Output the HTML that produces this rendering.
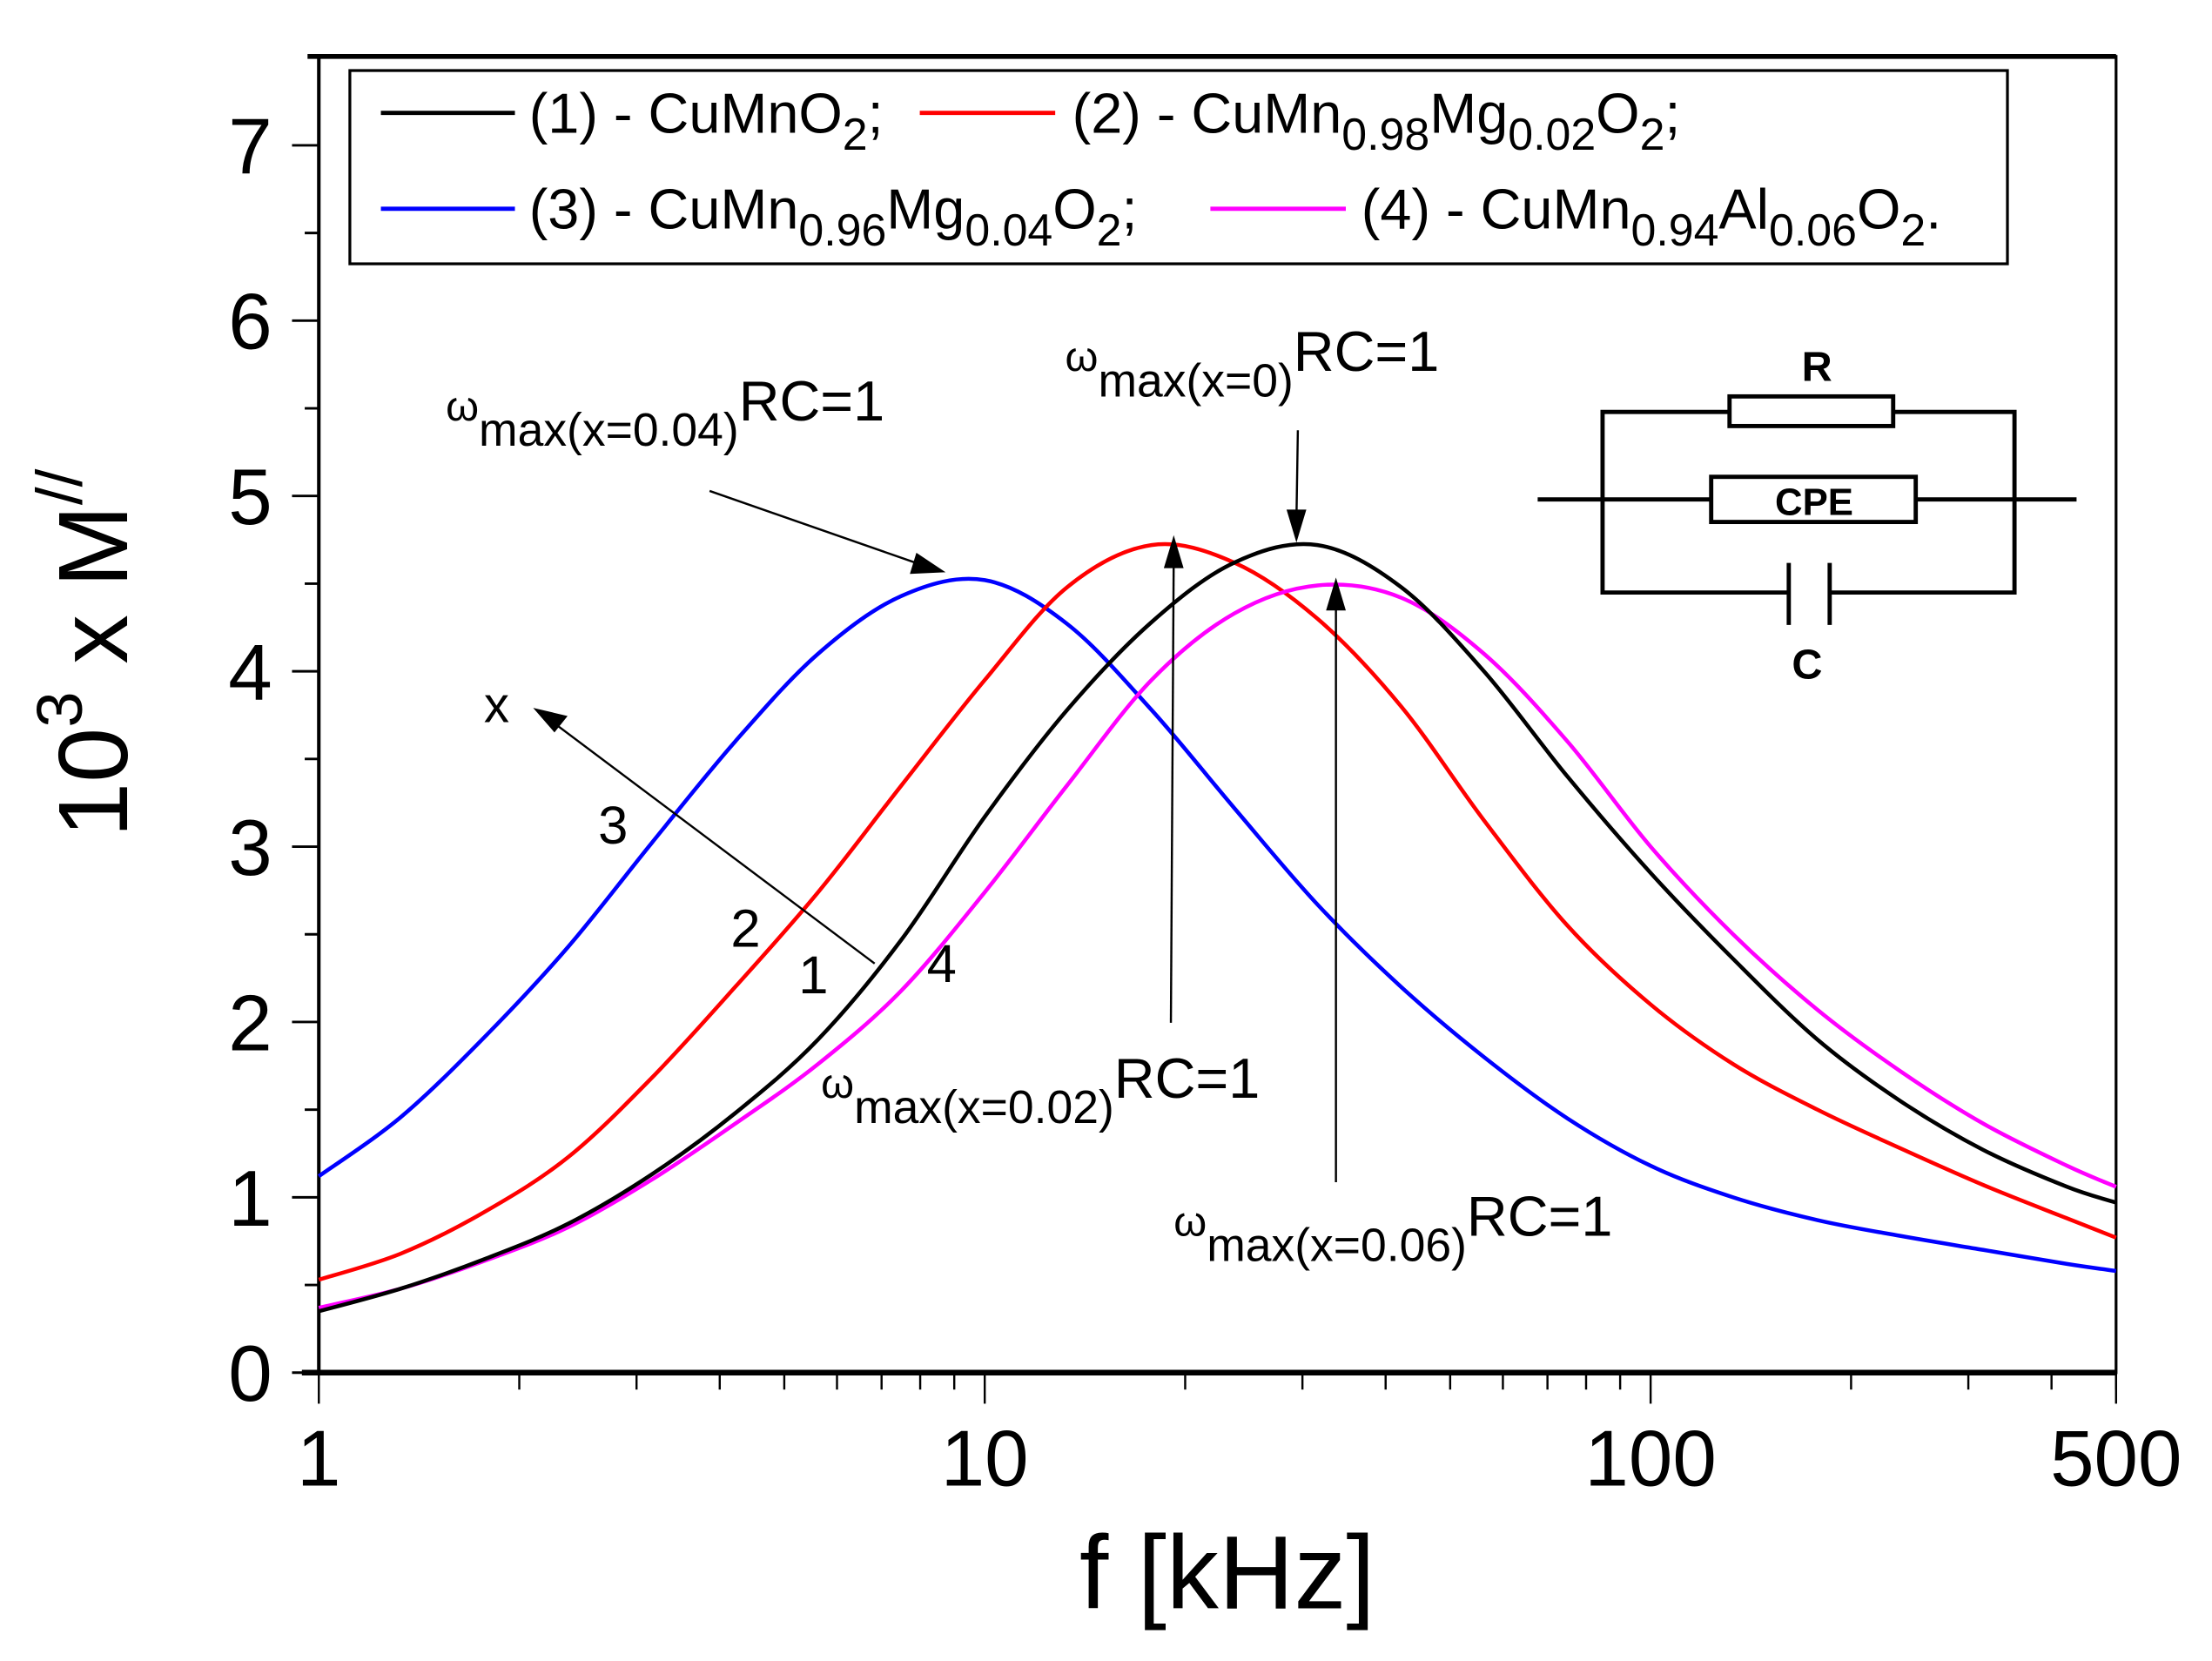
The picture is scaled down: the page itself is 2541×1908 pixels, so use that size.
<!DOCTYPE html>
<html><head><meta charset="utf-8"><style>
html,body{margin:0;padding:0;background:#fff;}
svg{display:block;font-family:"Liberation Sans",Arial,sans-serif;}
</style></head><body>
<svg id="chart" width="2541" height="1908" viewBox="0 0 1568 1177.4" xmlns="http://www.w3.org/2000/svg">
<rect x="0" y="0" width="1568" height="1177.4" fill="#fff"/>
<g id="axes"></g>
<g id="curves"></g>
<g>
  <rect x="248" y="50" width="1175" height="137" fill="#fff" stroke="#000" stroke-width="2"/>
  <line x1="270" y1="80" x2="365" y2="80" stroke="#000" stroke-width="3"/>
  <text x="375" y="94" font-size="40">(1) - CuMnO<tspan font-size="32" dy="12">2</tspan><tspan dy="-12">;</tspan></text>
  <line x1="652" y1="80" x2="748" y2="80" stroke="#f00" stroke-width="3"/>
  <text x="760" y="94" font-size="40">(2) - CuMn<tspan font-size="32" dy="12">0.98</tspan><tspan dy="-12">Mg</tspan><tspan font-size="32" dy="12">0.02</tspan><tspan dy="-12">O</tspan><tspan font-size="32" dy="12">2</tspan><tspan dy="-12">;</tspan></text>
  <line x1="270" y1="148" x2="365" y2="148" stroke="#00f" stroke-width="3"/>
  <text x="375" y="162" font-size="40">(3) - CuMn<tspan font-size="32" dy="12">0.96</tspan><tspan dy="-12">Mg</tspan><tspan font-size="32" dy="12">0.04</tspan><tspan dy="-12">O</tspan><tspan font-size="32" dy="12">2</tspan><tspan dy="-12">;</tspan></text>
  <line x1="858" y1="148" x2="954" y2="148" stroke="#f0f" stroke-width="3"/>
  <text x="965" y="162" font-size="40">(4) - CuMn<tspan font-size="32" dy="12">0.94</tspan><tspan dy="-12">Al</tspan><tspan font-size="32" dy="12">0.06</tspan><tspan dy="-12">O</tspan><tspan font-size="32" dy="12">2</tspan><tspan dy="-12">.</tspan></text>
</g>
<g stroke="#000" stroke-width="3" fill="none">
  <polyline points="1226,292 1136,292 1136,420 1268,420"/>
  <polyline points="1342,292 1428,292 1428,420 1297,420"/>
  <line x1="1090" y1="354" x2="1213" y2="354"/>
  <line x1="1358" y1="354" x2="1472" y2="354"/>
  <rect x="1226" y="281" width="116" height="21" fill="#fff"/>
  <rect x="1213" y="338" width="145" height="32" fill="#fff"/>
  <line x1="1268" y1="399" x2="1268" y2="443"/>
  <line x1="1297" y1="399" x2="1297" y2="443"/>
</g>
<text x="1288" y="270" font-size="30" font-weight="bold" text-anchor="middle">R</text>
<text x="1286" y="365" font-size="27" font-weight="bold" text-anchor="middle">CPE</text>
<text x="1281" y="481" font-size="30" font-weight="bold" text-anchor="middle">C</text>
<g font-size="40">
  <text x="316" y="298"><tspan font-size="30">ω</tspan><tspan font-size="33" dy="18">max(x=0.04)</tspan><tspan dy="-18">RC=1</tspan></text>
  <text x="755" y="263"><tspan font-size="30">ω</tspan><tspan font-size="33" dy="18">max(x=0)</tspan><tspan dy="-18">RC=1</tspan></text>
  <text x="582" y="778"><tspan font-size="30">ω</tspan><tspan font-size="33" dy="18">max(x=0.02)</tspan><tspan dy="-18">RC=1</tspan></text>
  <text x="832" y="876"><tspan font-size="30">ω</tspan><tspan font-size="33" dy="18">max(x=0.06)</tspan><tspan dy="-18">RC=1</tspan></text>
  <text x="343" y="512" font-size="36">x</text>
  <text x="424" y="598" font-size="38">3</text>
  <text x="518" y="671" font-size="38">2</text>
  <text x="566" y="704" font-size="38">1</text>
  <text x="657" y="696" font-size="38">4</text>
</g>
<g stroke="#000" stroke-width="1.5" fill="#000">
  <line x1="503" y1="348" x2="655" y2="401"/>
  <polygon points="668,405 646,406 650,393"/>
  <line x1="920" y1="305" x2="919" y2="368"/>
  <polygon points="919,382 913,362 925,362"/>
  <line x1="830" y1="725" x2="832" y2="395"/>
  <polygon points="832,382 826,402 838,402"/>
  <line x1="947" y1="838" x2="947" y2="425"/>
  <polygon points="947,412 941,432 953,432"/>
  <line x1="620" y1="683" x2="392" y2="512"/>
  <polygon points="380,503 401,508 393,518"/>
</g>
<text x="870" y="1140" font-size="74" text-anchor="middle">f [kHz]</text>
<text transform="translate(90,463) rotate(-90)" font-size="70" text-anchor="middle">10<tspan font-size="46" dy="-32">3</tspan><tspan dy="32"> x M</tspan><tspan font-size="46" dy="-32">//</tspan></text>
</svg>
<script>
const freqs = [1,1.33,1.78,2.37,3.16,4.22,5.62,7.5,10,13.3,17.8,23.7,31.6,42.2,56.2,75,100,133,178,237,316,422,500];
const seriesBlack = [0.35,0.48,0.65,0.85,1.13,1.48,1.9,2.47,3.17,3.78,4.28,4.62,4.72,4.48,4.0,3.4,2.85,2.36,1.9,1.55,1.27,1.06,0.97];
const seriesRed = [0.53,0.68,0.92,1.23,1.68,2.2,2.74,3.35,3.95,4.48,4.72,4.62,4.3,3.8,3.15,2.55,2.1,1.76,1.5,1.28,1.07,0.88,0.77];
const seriesBlue = [1.12,1.46,1.92,2.43,3.02,3.6,4.1,4.43,4.52,4.27,3.78,3.22,2.67,2.2,1.8,1.45,1.18,1.0,0.87,0.78,0.7,0.62,0.58];
const seriesMagenta = [0.37,0.48,0.64,0.83,1.1,1.42,1.76,2.18,2.74,3.35,3.95,4.33,4.49,4.42,4.1,3.6,3.0,2.5,2.07,1.72,1.42,1.18,1.06];
const xTickLabels = ["1","10","100","500"];
const xTickValues = [1,10,100,500];
const yTickLabels = ["0","1","2","3","4","5","6","7"];

const NS = "http://www.w3.org/2000/svg";
const X0 = 226, X1 = 1500, Y0 = 973, Y7 = 103;
function xs(f){ return X0 + (X1 - X0) * Math.log10(f) / Math.log10(500); }
function ys(v){ return Y0 - (Y0 - Y7) * v / 7; }
function mk(tag, attrs, parent){ const e = document.createElementNS(NS, tag); for (const k in attrs) e.setAttribute(k, attrs[k]); parent.appendChild(e); return e; }

const axes = document.getElementById('axes');
const fr = mk('rect', {x:X0, y:40, width:X1-X0, height:Y0-40, fill:'none', stroke:'#000', 'stroke-width':2}, axes);


const xa = mk('line', {x1:X0-12, y1:Y0, x2:X1, y2:Y0, stroke:'#000', 'stroke-width':4}, axes);


const ya = mk('line', {x1:X0, y1:40, x2:X0, y2:Y0, stroke:'#000', 'stroke-width':2.5}, axes);


const topl = mk('line', {x1:X0-8, y1:40, x2:X1, y2:40, stroke:'#000', 'stroke-width':3.5}, axes);



for (let d = 0; d < 3; d++) {
  for (let m = 1; m <= 9; m++) {
    const f = m * Math.pow(10, d);
    if (f > 500) break;
    const major = (m === 1);
    const t = mk('line', {x1:xs(f), y1:Y0, x2:xs(f), y2:Y0 + (major ? 22 : 12), stroke:'#000', 'stroke-width':1.5}, axes);
    
    
  }
}
const t500 = mk('line', {x1:xs(500), y1:Y0, x2:xs(500), y2:Y0+22, stroke:'#000', 'stroke-width':1.5}, axes);


xTickValues.forEach((v, i) => {
  const t = mk('text', {x:xs(v), y:1053, 'font-size':56, 'text-anchor':'middle'}, axes);
  t.textContent = xTickLabels[i];
  
  
});
for (let k = 0; k <= 14; k++) {
  const v = k / 2, major = (k % 2 === 0);
  const t = mk('line', {x1:X0 - (major ? 19 : 10), y1:ys(v), x2:X0, y2:ys(v), stroke:'#000', 'stroke-width':1.8}, axes);
  
  
}
yTickLabels.forEach((lab, i) => {
  const t = mk('text', {x:193, y:ys(i) + 20, 'font-size':56, 'text-anchor':'end'}, axes);
  t.textContent = lab;
  
  
});

function pathFor(vals){
  const p = freqs.map((f, i) => [xs(f), ys(vals[i])]);
  let d = 'M' + p[0][0] + ',' + p[0][1];
  for (let i = 0; i < p.length - 1; i++) {
    const a = p[Math.max(0, i-1)], b = p[i], c = p[i+1], e = p[Math.min(p.length-1, i+2)];
    const c1 = [b[0] + (c[0]-a[0])/6, b[1] + (c[1]-a[1])/6];
    const c2 = [c[0] - (e[0]-b[0])/6, c[1] - (e[1]-b[1])/6];
    d += ' C' + c1[0] + ',' + c1[1] + ' ' + c2[0] + ',' + c2[1] + ' ' + c[0] + ',' + c[1];
  }
  return d;
}
const curves = document.getElementById('curves');
const cBlue = mk('path', {d:pathFor(seriesBlue), fill:'none', stroke:'#00f', 'stroke-width':2.8}, curves);


const cRed = mk('path', {d:pathFor(seriesRed), fill:'none', stroke:'#f00', 'stroke-width':2.8}, curves);


const cMag = mk('path', {d:pathFor(seriesMagenta), fill:'none', stroke:'#f0f', 'stroke-width':2.8}, curves);


const cBlack = mk('path', {d:pathFor(seriesBlack), fill:'none', stroke:'#000', 'stroke-width':2.8}, curves);


</script>
</body></html>
